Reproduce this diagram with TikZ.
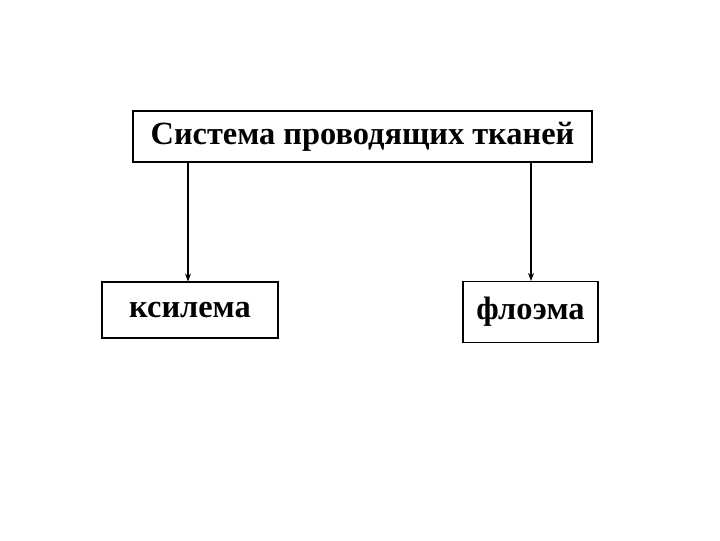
\documentclass[tikz,border=0pt]{standalone}
\usepackage{fontspec}
\setmainfont{Liberation Serif}
\usetikzlibrary{arrows.meta}
\begin{document}
\begin{tikzpicture}[x=0.75pt,y=-0.75pt,
  box/.style={draw, line width=0.8pt, inner sep=0pt, font=\fontsize{24.3}{28}\selectfont\bfseries},
  conn/.style={line width=0.8pt, -{Stealth[length=6pt,width=4.5pt]}}]
\useasboundingbox (0,0) rectangle (720,540);
\node[box, minimum width=459*0.75pt, minimum height=51*0.75pt] (top) at (362.5,136.5) {Система проводящих тканей};
\node[box, minimum width=176*0.75pt, minimum height=56*0.75pt] (xyl) at (190,310) {ксилема};
\node[box, minimum width=135*0.75pt, minimum height=61*0.75pt] (phl) at (530.5,312) {флоэма};
\draw[conn] (top.south -| 188,0) -- (xyl.north -| 188,0);
\draw[conn] (top.south -| 531,0) -- (phl.north -| 531,0);
\end{tikzpicture}
\end{document}
